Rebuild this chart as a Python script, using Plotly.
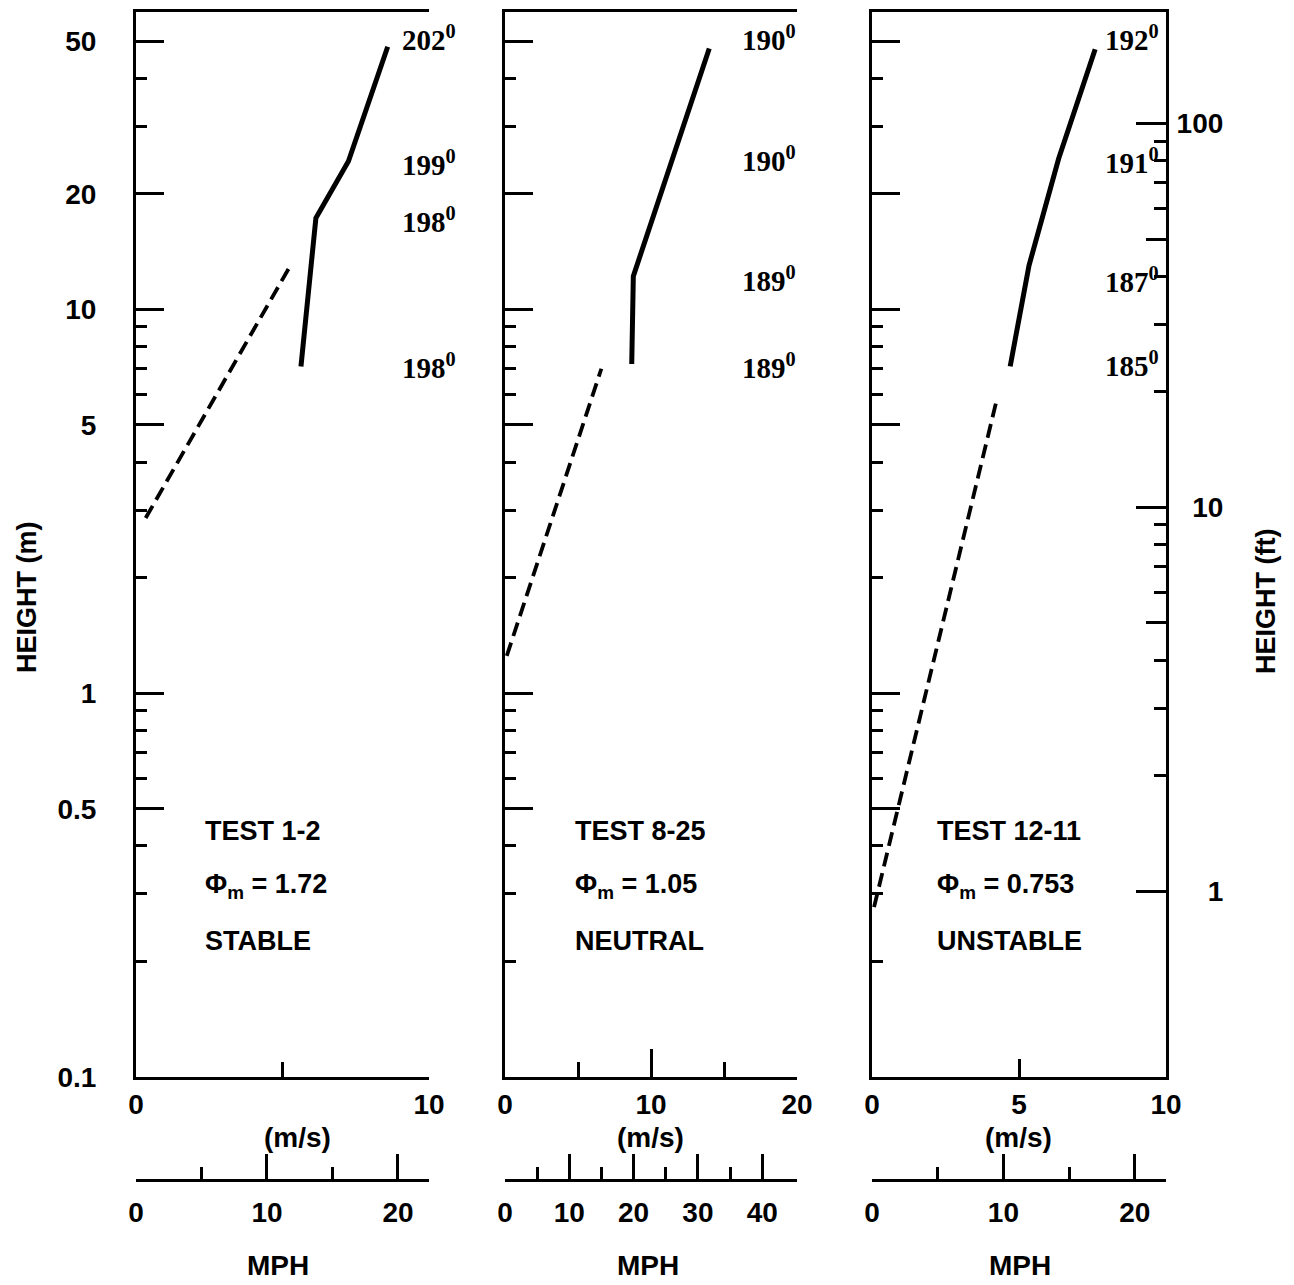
import numpy as np
import plotly.graph_objects as go

W, H = 1294, 1285

# ---------------- data ----------------
MPH_PER_MS = 2.23694

p1_dash_speed = [0.33, 5.22]
p1_dash_height = [2.86, 12.8]
p1_solid_speed = [5.63, 6.14, 7.25, 8.59]
p1_solid_height = [7.1, 17.3, 24.3, 48.3]

p2_dash_speed = [0.12, 6.6]
p2_dash_height = [1.25, 7.0]
p2_solid_speed = [8.68, 8.79, 13.99]
p2_solid_height = [7.2, 12.2, 47.8]

p3_dash_speed = [0.07, 4.24]
p3_dash_height = [0.277, 5.8]
p3_solid_speed = [4.70, 5.34, 6.35, 7.59]
p3_solid_height = [7.1, 13.0, 24.7, 47.6]

p1_dir_labels = ["202", "199", "198", "198"]
p1_dir_heights = [50.8, 24.0, 17.1, 7.1]
p2_dir_labels = ["190", "190", "189", "189"]
p2_dir_heights = [50.8, 24.7, 12.0, 7.1]
p3_dir_labels = ["192", "191", "187", "185"]
p3_dir_heights = [50.8, 24.3, 11.9, 7.2]

test_names = ["TEST 1-2", "TEST 8-25", "TEST 12-11"]
phi_values = ["1.72", "1.05", "0.753"]
stability = ["STABLE", "NEUTRAL", "UNSTABLE"]

speed_max = [10, 20, 10]
speed_ticks = [[0, 10], [0, 10, 20], [0, 5, 10]]
speed_minor = [[5], [5, 15], []]
mph_ticks = [[0, 10, 20], [0, 10, 20, 30, 40], [0, 10, 20]]
mph_minor = [[5, 15], [5, 15, 25, 35], [5, 15]]

height_m_major = [0.1, 0.5, 1, 5, 10, 20, 50]
height_m_major_text = ["0.1", "0.5", "1", "5", "10", "20", "50"]
height_m_minor = [0.2, 0.3, 0.4, 0.6, 0.7, 0.8, 0.9, 2, 3, 4, 6, 7, 8, 9, 30, 40]
height_ft_major = [1, 10, 100]
height_ft_major_text = ["\u2007\u20071", "\u200710", "100"]
height_ft_mid = [5, 50]
height_ft_minor = [2, 3, 4, 6, 7, 8, 9, 20, 30, 40, 60, 70, 80, 90]

H_MIN, H_MAX = 0.1, 59.5
FT_PER_M = 1 / 0.3048

# ---------------- layout helpers ----------------
def fx(px):
    return px / W

def fy(py):
    return 1 - py / H

FONT = "Liberation Sans, Arial, sans-serif"
SERIF = "Liberation Serif, DejaVu Serif, serif"
tick_font = dict(family=FONT, size=28, color="black", weight="bold")
label_font = dict(family=FONT, size=27, color="black", weight="bold")
dir_font = dict(family=SERIF, size=29, color="black", weight="bold")

x_domains = [[fx(136), fx(429)], [fx(505), fx(797)], [fx(872), fx(1166)]]
y_domain = [fy(1077), fy(12)]
y_range = [np.log10(H_MIN), np.log10(H_MAX)]

fig = go.Figure()

panels = [
    (p1_dash_speed, p1_dash_height, p1_solid_speed, p1_solid_height),
    (p2_dash_speed, p2_dash_height, p2_solid_speed, p2_solid_height),
    (p3_dash_speed, p3_dash_height, p3_solid_speed, p3_solid_height),
]
for i, (ds, dh, ss, sh) in enumerate(panels):
    xa = "x" if i == 0 else f"x{i+1}"
    ya = "y" if i == 0 else f"y{i+1}"
    fig.add_trace(go.Scatter(x=ds, y=dh, mode="lines", xaxis=xa, yaxis=ya,
                             line=dict(color="black", width=3.8, dash="14px,7px"),
                             showlegend=False, hoverinfo="skip"))
    fig.add_trace(go.Scatter(x=ss, y=sh, mode="lines", xaxis=xa, yaxis=ya,
                             line=dict(color="black", width=5),
                             showlegend=False, hoverinfo="skip"))

# invisible traces to attach MPH axes and ft axes
for i in range(3):
    ya = "y" if i == 0 else f"y{i+1}"
    fig.add_trace(go.Scatter(x=[None], y=[None], xaxis=f"x{i+4}", yaxis=ya,
                             showlegend=False, hoverinfo="skip"))
fig.add_trace(go.Scatter(x=[None], y=[None], xaxis="x3", yaxis="y4",
                         showlegend=False, hoverinfo="skip"))
fig.add_trace(go.Scatter(x=[None], y=[None], xaxis="x3", yaxis="y5",
                         showlegend=False, hoverinfo="skip"))

layout = dict(
    width=W, height=H,
    margin=dict(l=0, r=0, t=0, b=0),
    paper_bgcolor="white", plot_bgcolor="white",
    showlegend=False,
)

for i in range(3):
    xkey = "xaxis" if i == 0 else f"xaxis{i+1}"
    ykey = "yaxis" if i == 0 else f"yaxis{i+1}"
    ya = "y" if i == 0 else f"y{i+1}"
    xa = "x" if i == 0 else f"x{i+1}"
    layout[xkey] = dict(
        domain=x_domains[i], anchor=ya, range=[0, speed_max[i]],
        showline=True, linewidth=3, linecolor="black", mirror=True,
        showgrid=False, zeroline=False,
        ticks="inside", ticklen=18 if i == 2 else 28, tickwidth=2.5, tickcolor="black",
        tickmode="array", tickvals=speed_ticks[i],
        ticktext=[str(v) for v in speed_ticks[i]],
        minor=dict(tickmode="array", tickvals=speed_minor[i], ticks="inside",
                   ticklen=15, tickwidth=2.5, tickcolor="black", showgrid=False),
        tickfont=tick_font, ticklabelstandoff=0, automargin=False,
    )
    layout[ykey] = dict(
        domain=y_domain, anchor=xa, type="log", range=y_range,
        showline=True, linewidth=3, linecolor="black", mirror=False,
        showgrid=False, zeroline=False,
        ticks="inside", ticklen=28, tickwidth=2.5, tickcolor="black",
        tickmode="array", tickvals=height_m_major, ticktext=height_m_major_text,
        showticklabels=(i == 0),
        minor=dict(tickmode="array", tickvals=height_m_minor, ticks="inside",
                   ticklen=11, tickwidth=2.5, tickcolor="black", showgrid=False),
        tickfont=tick_font, ticklabelstandoff=31, automargin=False,
    )
    # MPH axis below each panel
    layout[f"xaxis{i+4}"] = dict(
        domain=x_domains[i], overlaying=xa, anchor="free", position=fy(1180),
        side="bottom", range=[0, speed_max[i] * MPH_PER_MS] if i != 1 else [0, 20.3 * MPH_PER_MS],
        showline=True, linewidth=3, linecolor="black",
        showgrid=False, zeroline=False,
        ticks="inside", ticklen=25, tickwidth=2.5, tickcolor="black",
        tickmode="array", tickvals=mph_ticks[i], ticktext=[str(v) for v in mph_ticks[i]],
        minor=dict(tickmode="array", tickvals=mph_minor[i], ticks="inside",
                   ticklen=12, tickwidth=2.5, tickcolor="black", showgrid=False),
        tickfont=tick_font, ticklabelstandoff=6, automargin=False,
    )

# right-hand height axis in feet (panel 3)
ft_range = [np.log10(H_MIN * FT_PER_M), np.log10(H_MAX * FT_PER_M)]
layout["yaxis4"] = dict(
    domain=y_domain, anchor="x3", overlaying="y3", side="right", type="log",
    range=ft_range, showline=True, linewidth=3, linecolor="black",
    showgrid=False, zeroline=False,
    ticks="inside", ticklen=30, tickwidth=2.5, tickcolor="black",
    tickmode="array", tickvals=height_ft_major, ticktext=height_ft_major_text,
    minor=dict(tickmode="array", tickvals=height_ft_minor, ticks="inside",
               ticklen=12, tickwidth=2.5, tickcolor="black", showgrid=False),
    tickfont=tick_font, ticklabelstandoff=2, automargin=False,
)
layout["yaxis5"] = dict(
    domain=y_domain, anchor="x3", overlaying="y3", side="right", type="log",
    range=ft_range, showline=False, showgrid=False, zeroline=False,
    ticks="inside", ticklen=20, tickwidth=2.5, tickcolor="black",
    tickmode="array", tickvals=height_ft_mid, showticklabels=False, automargin=False,
)

fig.update_layout(**layout)

# ---------------- annotations ----------------
ann = []
title_font = dict(family=FONT, size=27, color="black", weight="bold")
ann.append(dict(text="HEIGHT (m)", x=fx(27), y=fy(597), xref="paper", yref="paper",
                textangle=-90, showarrow=False, font=title_font,
                xanchor="center", yanchor="middle"))
ann.append(dict(text="HEIGHT (ft)", x=fx(1266), y=fy(602), xref="paper", yref="paper",
                textangle=-90, showarrow=False, font=title_font,
                xanchor="center", yanchor="middle"))

ms_centers = [fx(297), fx(650), fx(1018)]
mph_centers = [fx(278), fx(648), fx(1020)]
for i in range(3):
    ann.append(dict(text="(m/s)", x=ms_centers[i], y=fy(1137), xref="paper", yref="paper",
                    showarrow=False, font=tick_font, xanchor="center", yanchor="middle"))
    ann.append(dict(text="MPH", x=mph_centers[i], y=fy(1265), xref="paper", yref="paper",
                    showarrow=False, font=tick_font, xanchor="center", yanchor="middle"))

text_x = [fx(203), fx(573), fx(935)]
for i in range(3):
    ann.append(dict(text=test_names[i], x=text_x[i], y=fy(831), xref="paper", yref="paper",
                    showarrow=False, font=label_font, xanchor="left", yanchor="middle"))
    ann.append(dict(text=f"\u03a6<sub>m</sub> = {phi_values[i]}", x=text_x[i], y=fy(886),
                    xref="paper", yref="paper", showarrow=False, font=label_font,
                    xanchor="left", yanchor="middle"))
    ann.append(dict(text=stability[i], x=text_x[i], y=fy(941), xref="paper", yref="paper",
                    showarrow=False, font=label_font, xanchor="left", yanchor="middle"))

dir_sets = [(p1_dir_labels, p1_dir_heights, "y", fx(400)),
            (p2_dir_labels, p2_dir_heights, "y2", fx(740)),
            (p3_dir_labels, p3_dir_heights, "y3", fx(1103))]
for labels, heights, ya, xpos in dir_sets:
    for lab, h in zip(labels, heights):
        ann.append(dict(text=f"{lab}<sup>0</sup>", x=xpos, y=np.log10(h), xref="paper", yref=ya,
                        showarrow=False, font=dir_font, xanchor="left", yanchor="middle"))

fig.update_layout(annotations=ann)

fig.write_html("out.html", config={"displayModeBar": False},
               post_script="document.body.style.margin='0';document.body.style.overflow='hidden';")
